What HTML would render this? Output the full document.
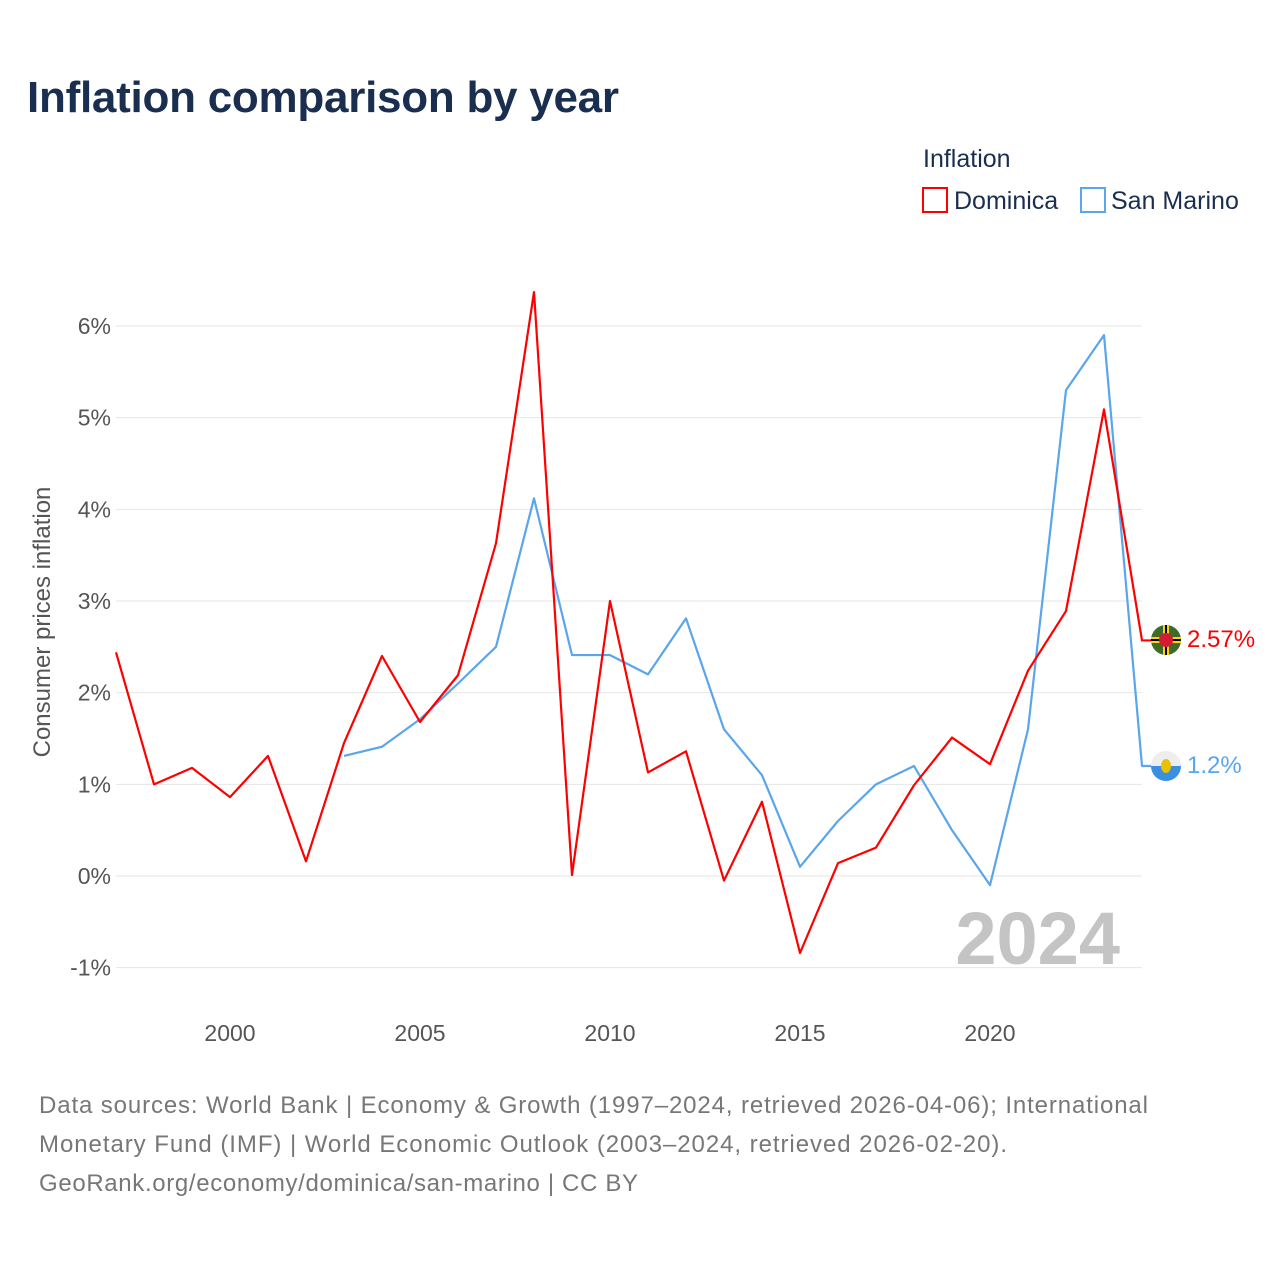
<!DOCTYPE html>
<html><head><meta charset="utf-8"><style>
body{margin:0;background:#fff;font-family:"Liberation Sans",sans-serif}
text{font-family:"Liberation Sans",sans-serif}
</style></head><body>
<svg width="1280" height="1280" viewBox="0 0 1280 1280" xmlns="http://www.w3.org/2000/svg">
<text x="27" y="112" font-size="44" font-weight="bold" fill="#1a2e4f" textLength="592">Inflation comparison by year</text>
<text x="923" y="167" font-size="25" fill="#1a2e4f">Inflation</text>
<g><rect x="923" y="188" width="24" height="24" fill="none" stroke="#f00" stroke-width="2"/><text x="954" y="209" font-size="25" fill="#1a2e4f">Dominica</text></g>
<g><rect x="1081" y="188" width="24" height="24" fill="none" stroke="#5aa5ec" stroke-width="2"/><text x="1111" y="209" font-size="25" fill="#1a2e4f">San Marino</text></g>
<g id="grid"></g>
<g id="yt"></g>
<g id="xt"></g>
<text transform="translate(50,622) rotate(-90)" text-anchor="middle" font-size="24" fill="#555">Consumer prices inflation</text>
<text x="1120" y="964" text-anchor="end" font-size="74" font-weight="bold" fill="#c4c4c4">2024</text>
<g id="series"></g>
<g>
<circle cx="1166" cy="640" r="15" fill="#3f6b2a"/><rect x="1151" y="637" width="30" height="6" fill="#fcd116"/><rect x="1163" y="625" width="6" height="30" fill="#fcd116"/><rect x="1151" y="639" width="30" height="2" fill="#000"/><rect x="1165" y="625" width="2" height="30" fill="#000"/><circle cx="1166" cy="640" r="7" fill="#d41c30"/></g>
<g>
<clipPath id="sm"><circle cx="1166" cy="766" r="15"/></clipPath>
<g clip-path="url(#sm)"><rect x="1151" y="751" width="30" height="15" fill="#eee"/><rect x="1151" y="766" width="30" height="15" fill="#3a8fe0"/></g>
<ellipse cx="1166" cy="766" rx="5" ry="7" fill="#e8c200"/></g>
<text x="1187" y="647" font-size="24" fill="#f00">2.57%</text>
<text x="1187" y="773" font-size="24" fill="#5aa5ec">1.2%</text>
<text font-size="24" fill="#777"><tspan x="39" y="1113" textLength="1109">Data sources: World Bank | Economy &amp; Growth (1997–2024, retrieved 2026-04-06); International</tspan><tspan x="39" y="1152" textLength="968">Monetary Fund (IMF) | World Economic Outlook (2003–2024, retrieved 2026-02-20).</tspan><tspan x="39" y="1191" textLength="599">GeoRank.org/economy/dominica/san-marino | CC BY</tspan></text>
</svg>
<script>
const yTicks=[-1,0,1,2,3,4,5,6];
const xTicks=[2000,2005,2010,2015,2020];
const domYears=[1997,1998,1999,2000,2001,2002,2003,2004,2005,2006,2007,2008,2009,2010,2011,2012,2013,2014,2015,2016,2017,2018,2019,2020,2021,2022,2023,2024];
const domVals=[2.44,1.00,1.18,0.86,1.31,0.16,1.45,2.40,1.68,2.19,3.63,6.37,0.01,3.00,1.13,1.36,-0.05,0.81,-0.84,0.14,0.31,0.99,1.51,1.22,2.24,2.89,5.09,2.57];
const smYears=[2003,2004,2005,2006,2007,2008,2009,2010,2011,2012,2013,2014,2015,2016,2017,2018,2019,2020,2021,2022,2023,2024];
const smVals=[1.31,1.41,1.71,2.1,2.5,4.12,2.41,2.41,2.2,2.81,1.6,1.1,0.1,0.6,1.0,1.2,0.5,-0.1,1.6,5.3,5.9,1.2];
const NS='http://www.w3.org/2000/svg';
const X=y=>116+(y-1997)*38;
const Y=v=>876-v*91.667;
function mk(t,a,p){const e=document.createElementNS(NS,t);for(const k in a)e.setAttribute(k,a[k]);p.appendChild(e);return e;}
const g=document.getElementById('grid'),yt=document.getElementById('yt'),xt=document.getElementById('xt'),s=document.getElementById('series');
yTicks.forEach(v=>{
const l=mk('line',{x1:116,x2:1142,y1:Y(v),y2:Y(v),stroke:'#e6e6e6','stroke-width':1},g);


const t=mk('text',{x:111,y:Y(v)+8,'text-anchor':'end','font-size':23,fill:'#555'},yt);
t.textContent=v+'%';


});
xTicks.forEach(v=>{
const t=mk('text',{x:X(v),y:1041,'text-anchor':'middle','font-size':23,fill:'#555'},xt);
t.textContent=v;


});
function line(ys,vs,c,n){
let d=ys.map((y,i)=>(i?'L':'M')+X(y)+','+Y(vs[i])).join(' ');
d+=' L'+(X(ys[ys.length-1])+10)+','+Y(vs[vs.length-1]);
const p=mk('path',{d:d,fill:'none',stroke:c,'stroke-width':2.2,'stroke-linejoin':'round'},s);


}
line(smYears,smVals,'#5aa5ec','line-san-marino');
line(domYears,domVals,'#f00','line-dominica');
</script>
</body></html>
